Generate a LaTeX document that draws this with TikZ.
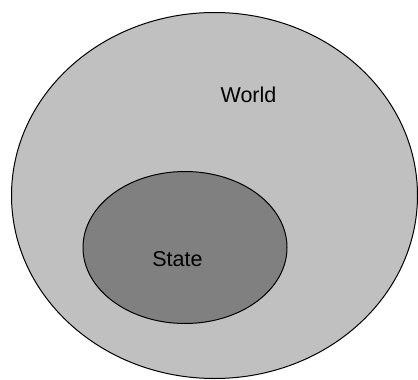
\documentclass[tikz,border=0pt]{standalone}
\usepackage{fontspec}
\setmainfont{Liberation Sans}
\definecolor{worldgray}{RGB}{192,192,192}
\definecolor{stategray}{RGB}{128,128,128}
\usetikzlibrary{shapes.geometric}

\begin{document}
\begin{tikzpicture}[x=1pt,y=-1pt,
      font=\fontsize{21.5}{25}\selectfont,
      region/.style={draw=black,ellipse,line width=1pt,inner sep=0pt},
      tag/.style={inner sep=0pt,text=black}]
    \useasboundingbox[fill=white] (0,0) rectangle (418,380);
    \node[region,fill=worldgray,minimum width=406pt,minimum height=366pt] (world) at (214.5,195.5) {};
    \node[region,fill=stategray,minimum width=204pt,minimum height=152pt] (state) at (185,247.5) {};
    \node[tag] (worldlbl) at (248.5,95) {World};
    \node[tag] (statelbl) at (177.5,259) {State};
  \end{tikzpicture}
\end{document}
